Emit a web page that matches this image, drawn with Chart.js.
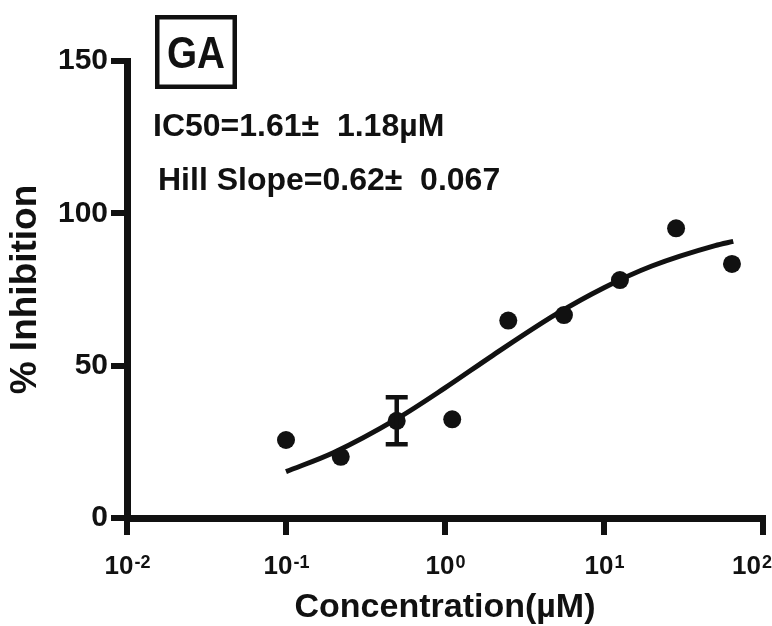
<!DOCTYPE html>
<html>
<head>
<meta charset="utf-8">
<script src="https://cdn.jsdelivr.net/npm/chart.js@4.4.1/dist/chart.umd.min.js"></script>
<style>
  html, body { margin: 0; padding: 0; background: #fff; }
  #wrap { width: 772px; height: 626px; }
</style>
</head>
<body>
<div id="wrap"><canvas id="chart"></canvas></div>
<script>
// measured points (concentration in uM, % inhibition)
const concentrations = [0.1, 0.221, 0.497, 1.11, 2.5, 5.6, 12.6, 28.4, 63.8];
const inhibition = [25.6, 20.1, 31.9, 32.4, 64.8, 66.6, 78.1, 95.1, 83.4];
const inhibitionErr = [0, 0, 7.7, 0, 0, 0, 0, 0, 0];

// fitted curve
const curveX = [0.1, 0.2, 0.5, 1, 2, 5, 10, 20, 50, 65];
const curveY = [15.2, 21.5, 32.6, 42.7, 53.4, 66.9, 75.6, 82.7, 89.4, 90.8];

const xTicks = [0.01, 0.1, 1, 10, 100];
const xTickExps = ["-2", "-1", "0", "1", "2"];
const yTicks = [0, 50, 100, 150];

const FONT = "'Liberation Sans', Arial, Helvetica, sans-serif";

// error bars on the measured points
const errorBars = {
    id: "errorBars",
    afterDatasetsDraw(chart) {
        const ctx = chart.ctx;
        const x = chart.scales.x, y = chart.scales.y;
        ctx.save();
        ctx.strokeStyle = "#111";
        ctx.lineWidth = 4.5;
        inhibitionErr.forEach((e, i) => {
            if (!e) return;
            const px = x.getPixelForValue(concentrations[i]);
            const top = y.getPixelForValue(inhibition[i] + e);
            const bot = y.getPixelForValue(inhibition[i] - e);
            ctx.beginPath();
            ctx.moveTo(px, top); ctx.lineTo(px, bot);
            ctx.moveTo(px - 11, top); ctx.lineTo(px + 11, top);
            ctx.moveTo(px - 11, bot); ctx.lineTo(px + 11, bot);
            ctx.stroke();
        });
        ctx.restore();
    }
};

// log tick labels with superscript exponents, plus the text annotations
const extras = {
    id: "extras",
    afterDraw(chart) {
        const ctx = chart.ctx;
        const x = chart.scales.x;
        ctx.save();
        ctx.fillStyle = "#111";
        ctx.textBaseline = "alphabetic";
        ctx.textAlign = "left";
        xTicks.forEach((v, i) => {
            const px = x.getPixelForValue(v);
            ctx.font = "bold 26px " + FONT;
            const wBase = ctx.measureText("10").width;
            ctx.font = "bold 18px " + FONT;
            const wExp = ctx.measureText(xTickExps[i]).width;
            let left = px - (wBase + wExp) / 2;
            if (left + wBase + wExp > 771) left = 771 - wBase - wExp;
            ctx.font = "bold 26px " + FONT;
            ctx.fillText("10", left, 574);
            ctx.font = "bold 18px " + FONT;
            ctx.fillText(xTickExps[i], left + wBase + 1, 568);
        });

        // GA box
        ctx.strokeStyle = "#111";
        ctx.lineWidth = 4.5;
        ctx.strokeRect(157.25, 17.25, 77.5, 69.5);
        ctx.font = "bold 44px " + FONT;
        const wGA = ctx.measureText("GA").width;
        ctx.save();
        ctx.translate(196, 68);
        ctx.scale(58 / wGA, 1);
        ctx.textAlign = "center";
        ctx.fillText("GA", 0, 0);
        ctx.restore();

        ctx.font = "bold 32px " + FONT;
        ctx.fillText("IC50=1.61±  1.18µM", 153, 136);
        ctx.fillText("Hill Slope=0.62±  0.067", 158, 190);
        ctx.restore();
    }
};

new Chart(document.getElementById("chart"), {
    type: "scatter",
    data: {
        datasets: [
            {
                label: "GA",
                data: concentrations.map((c, i) => ({ x: c, y: inhibition[i] })),
                pointRadius: 9,
                pointHoverRadius: 9,
                backgroundColor: "#111",
                borderWidth: 0,
                showLine: false,
            },
            {
                label: "fit",
                data: curveX.map((c, i) => ({ x: c, y: curveY[i] })),
                showLine: true,
                pointRadius: 0,
                borderColor: "#111",
                borderWidth: 5,
                cubicInterpolationMode: "monotone",
                fill: false,
            },
        ],
    },
    options: {
        responsive: true,
        maintainAspectRatio: false,
        animation: false,
        events: [],
        layout: { padding: { top: 61, right: 8, bottom: 0, left: 0 } },
        plugins: {
            legend: { display: false },
            tooltip: { enabled: false },
        },
        scales: {
            x: {
                type: "logarithmic",
                min: 0.01,
                max: 100,
                afterBuildTicks: (s) => { s.ticks = xTicks.map((v) => ({ value: v })); },
                afterFit: (s) => { s.height = 108; s.paddingLeft = 0; s.paddingRight = 0; },
                ticks: { display: false },
                grid: {
                    drawOnChartArea: false,
                    drawTicks: true,
                    tickLength: 17,
                    lineWidth: 6,
                    color: "#111",
                },
                border: { display: true, color: "#111", width: 7 },
                title: {
                    display: true,
                    text: "Concentration(µM)",
                    color: "#111",
                    font: { family: FONT, size: 34, weight: "bold", lineHeight: 1.1 },
                    padding: { top: 0, bottom: 0 },
                },
            },
            y: {
                min: 0,
                max: 150,
                afterBuildTicks: (s) => { s.ticks = yTicks.map((v) => ({ value: v })); },
                afterFit: (s) => { s.width = 127; s.paddingTop = 0; s.paddingBottom = 0; },
                ticks: {
                    color: "#111",
                    padding: 3,
                    font: { family: FONT, size: 30, weight: "bold" },
                },
                grid: {
                    drawOnChartArea: false,
                    drawTicks: true,
                    tickLength: 16,
                    lineWidth: 6,
                    color: "#111",
                },
                border: { display: true, color: "#111", width: 7 },
                title: {
                    display: true,
                    text: "% Inhibition",
                    color: "#111",
                    font: { family: FONT, size: 37, weight: "bold" },
                    padding: { top: 4, bottom: 0 },
                },
            },
        },
    },
    plugins: [errorBars, extras],
});
</script>
</body>
</html>
